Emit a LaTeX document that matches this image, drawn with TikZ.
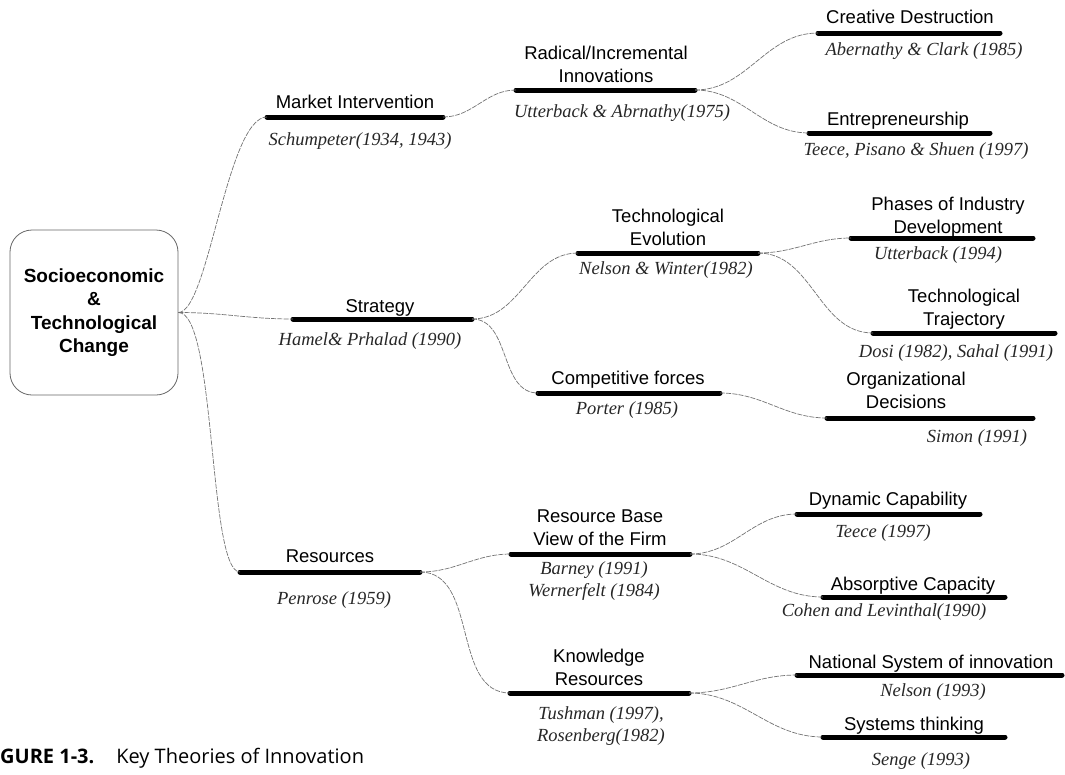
\documentclass[tikz,border=0pt]{standalone}
\usepackage{fontspec}
\setmainfont{Liberation Serif}
\setsansfont{Liberation Sans}
\newfontfamily\captionfont{Open Sans}
% two-line label: baseline on the last line (sits on the bar)
\newcommand\twoup[2]{\begin{tabular}[b]{@{}c@{}}#1\\#2\end{tabular}}
% two-line reference: baseline on the first line (hangs below the bar)
\newcommand\twodown[2]{\begin{tabular}[t]{@{}c@{}}#1\\#2\end{tabular}}
% a thick topic bar between two named ends
\newcommand\topicbar[4]{%
  \coordinate (#1-l) at (#2,#4);
  \coordinate (#1-r) at (#3,#4);
  \draw[barline] (#1-l) -- (#1-r);}
% smooth S-shaped connector between bar ends
\newcommand\link[2]{\draw[conn] (#1) to[out=0,in=180] (#2);}
\begin{document}
\begin{tikzpicture}[x=1pt,y=-1pt,
  barline/.style={line width=5pt,line cap=round,black},
  conn/.style={draw=black!55,line width=0.7pt,dash pattern=on 5pt off 1.2pt},
  lbl/.style={anchor=base,inner sep=0pt,font=\sffamily\fontsize{18.5}{23}\selectfont},
  cit/.style={anchor=base,inner sep=0pt,text=black!85,font=\rmfamily\itshape\fontsize{18.5}{22}\selectfont},
  rootbox/.style={draw=black!60,line width=0.8pt,rounded corners=22pt,
    minimum width=168pt,minimum height=165pt,inner sep=0pt,align=center,
    font=\sffamily\bfseries\fontsize{19}{23.5}\selectfont}
]
\useasboundingbox (0,0) rectangle (1065,774);

% root
\node[rootbox] (root) at (94,312.5) {Socioeconomic\\\&\\Technological\\Change};

% first level
\topicbar{mi}{267}{443}{117}
\node[lbl] (mi-t) at (355,108) {Market Intervention};
\node[cit] (mi-c) at (360,145) {Schumpeter(1934, 1943)};

\topicbar{st}{293}{472}{319}
\node[lbl] (st-t) at (380,312) {Strategy};
\node[cit] (st-c) at (370,345) {Hamel\& Prhalad (1990)};

\topicbar{rs}{240}{420}{572}
\node[lbl] (rs-t) at (330,562) {Resources};
\node[cit] (rs-c) at (334,604) {Penrose (1959)};

% second level
\topicbar{ri}{516}{695}{90}
\node[lbl] (ri-t) at (606,82) {\twoup{Radical/Incremental}{Innovations}};
\node[cit] (ri-c) at (622,117) {Utterback \& Abrnathy(1975)};

\topicbar{te}{578}{758}{253}
\node[lbl] (te-t) at (668,245) {\twoup{Technological}{Evolution}};
\node[cit] (te-c) at (666,274) {Nelson \& Winter(1982)};

\topicbar{cf}{538}{720}{393}
\node[lbl] (cf-t) at (628,384) {Competitive forces};
\node[cit] (cf-c) at (627,414) {Porter (1985)};

\topicbar{rb}{511}{690}{554}
\node[lbl] (rb-t) at (600,545) {\twoup{Resource Base}{View of the Firm}};
\node[cit] (rb-c) at (594,574) {\twodown{Barney (1991)}{Wernerfelt (1984)}};

\topicbar{kr}{510}{689}{693}
\node[lbl] (kr-t) at (599,685) {\twoup{Knowledge}{Resources}};
\node[cit] (kr-c) at (601,719) {\twodown{Tushman (1997),}{Rosenberg(1982)}};

% third level
\topicbar{cd}{818}{1000}{33}
\node[lbl] (cd-t) at (910,23) {Creative Destruction};
\node[cit] (cd-c) at (924,55) {Abernathy \& Clark (1985)};

\topicbar{en}{809}{990}{133}
\node[lbl] (en-t) at (898,125) {Entrepreneurship};
\node[cit] (en-c) at (916,155) {Teece, Pisano \& Shuen (1997)};

\topicbar{ph}{851}{1033}{238}
\node[lbl] (ph-t) at (948,233) {\twoup{Phases of Industry}{Development}};
\node[cit] (ph-c) at (938,259) {Utterback (1994)};

\topicbar{tt}{873}{1055}{333}
\node[lbl] (tt-t) at (964,325) {\twoup{Technological}{Trajectory}};
\node[cit] (tt-c) at (956,357) {Dosi (1982), Sahal (1991)};

\topicbar{od}{827}{1033}{418}
\node[lbl] (od-t) at (906,408) {\twoup{Organizational}{Decisions}};
\node[cit] (od-c) at (977,442) {Simon (1991)};

\topicbar{dc}{797}{980}{514}
\node[lbl] (dc-t) at (888,505) {Dynamic Capability};
\node[cit] (dc-c) at (883,537) {Teece (1997)};

\topicbar{ac}{823}{1005}{597}
\node[lbl] (ac-t) at (913,590) {Absorptive Capacity};
\node[cit] (ac-c) at (884,616) {Cohen and Levinthal(1990)};

\topicbar{ns}{797}{1062}{675}
\node[lbl] (ns-t) at (931,668) {National System of innovation};
\node[cit] (ns-c) at (933,696) {Nelson (1993)};

\topicbar{sy}{823}{1005}{737}
\node[lbl] (sy-t) at (914,730) {Systems thinking};
\node[cit] (sy-c) at (921,765) {Senge (1993)};

% connectors from the root
\draw[conn] (root.east) to[out=0,in=180,out distance=30pt,in distance=40pt] (mi-l);
\draw[conn] (root.east) to[out=0,in=180] (st-l);
\draw[conn] (root.east) to[out=0,in=180,out distance=38pt,in distance=32pt] (rs-l);

% connectors between levels
\link{mi-r}{ri-l}
\link{st-r}{te-l}
\link{st-r}{cf-l}
\link{rs-r}{rb-l}
\link{rs-r}{kr-l}
\link{ri-r}{cd-l}
\link{ri-r}{en-l}
\link{te-r}{ph-l}
\link{te-r}{tt-l}
\link{cf-r}{od-l}
\link{rb-r}{dc-l}
\link{rb-r}{ac-l}
\link{kr-r}{ns-l}
\link{kr-r}{sy-l}

% caption
\node[anchor=base west,inner sep=0pt,font=\captionfont\fontsize{20}{24}\selectfont] (cap) at (0,763)
  {\textbf{GURE 1-3.}\hspace{22pt}Key Theories of Innovation};
\end{tikzpicture}
\end{document}
